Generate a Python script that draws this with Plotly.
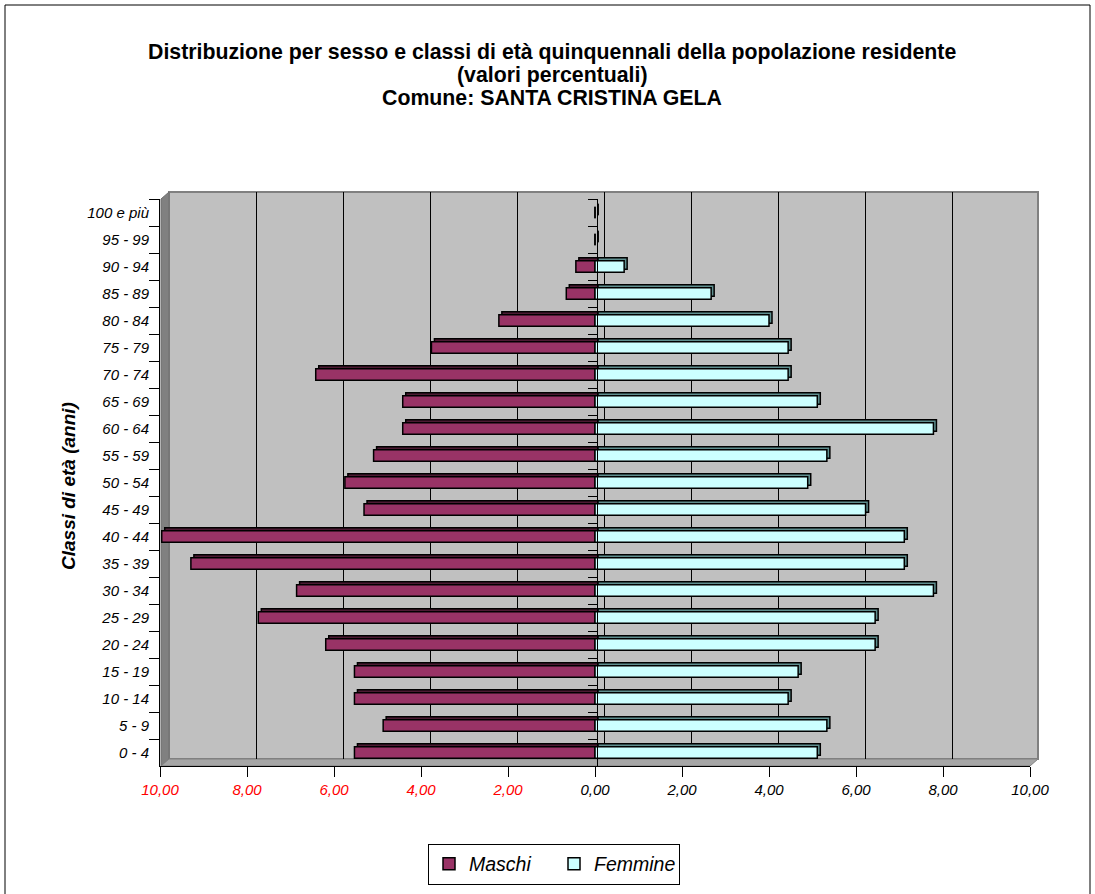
import plotly.graph_objects as go

# ---------------- data ----------------
categories = ["0 - 4", "5 - 9", "10 - 14", "15 - 19", "20 - 24", "25 - 29", "30 - 34",
              "35 - 39", "40 - 44", "45 - 49", "50 - 54", "55 - 59", "60 - 64", "65 - 69",
              "70 - 74", "75 - 79", "80 - 84", "85 - 89", "90 - 94", "95 - 99", "100 e più"]
maschi = [5.53, 4.87, 5.53, 5.53, 6.19, 7.74, 6.86, 9.29, 9.96, 5.31, 5.75, 5.09,
          4.42, 4.42, 6.42, 3.76, 2.21, 0.66, 0.44, 0.00, 0.00]
femmine = [5.11, 5.33, 4.44, 4.67, 6.44, 6.44, 7.78, 7.11, 7.11, 6.22, 4.89, 5.33,
           7.78, 5.11, 4.44, 4.44, 4.00, 2.67, 0.67, 0.00, 0.00]
x_ticks = [-10, -8, -6, -4, -2, 0, 2, 4, 6, 8, 10]
title_lines = ["Distribuzione per sesso e classi di età quinquennali della popolazione residente",
               "(valori percentuali)",
               "Comune: SANTA CRISTINA GELA"]
y_title = "Classi di età (anni)"
series_names = ["Maschi", "Femmine"]

# ---------------- geometry helpers ----------------
W, H = 1095, 894
FONT = "Liberation Sans, Arial, sans-serif"


def px(xp):
    return xp / W


def py(yp):
    return 1 - yp / H


def dom_x(a, b):
    return [px(a), px(b)]


def dom_y(top, bottom):
    return [py(bottom), py(top)]


# front / depth / back planes (pixel boxes, screen coords)
FRONT = (160, 1030, 199, 766)
DEPTH = (163, 1033, 196, 763)
BACK = (169, 1039, 192, 759)

col_m, col_f = "#993366", "#CCFFFF"
col_m_d, col_f_d = "#4d1a33", "#5f8f8f"


def fmt(v):
    s = f"{abs(v):.2f}".replace(".", ",")
    if v < 0:
        return f'<span style="color:#FF0000">{s}</span>'
    return s


neg_m = [-v for v in maschi]

fig = go.Figure()
# back plane placeholder (holds the gridlines)
fig.add_trace(go.Scatter(x=[None], y=[None], xaxis="x", yaxis="y", showlegend=False, hoverinfo="skip"))

# depth (3-D extrusion) bars
fig.add_trace(go.Bar(y=categories, x=neg_m, orientation="h", xaxis="x2", yaxis="y2",
                     marker=dict(color=col_m_d, line=dict(color="black", width=1.5)),
                     showlegend=False, hoverinfo="skip"))
fig.add_trace(go.Bar(y=categories, x=femmine, orientation="h", xaxis="x2", yaxis="y2",
                     marker=dict(color=col_f_d, line=dict(color="black", width=1.5)),
                     showlegend=False, hoverinfo="skip"))

# front bars
fig.add_trace(go.Bar(y=categories, x=neg_m, orientation="h", xaxis="x3", yaxis="y3",
                     name=series_names[0],
                     marker=dict(color=col_m, line=dict(color="black", width=1.5))))
fig.add_trace(go.Bar(y=categories, x=femmine, orientation="h", xaxis="x3", yaxis="y3",
                     name=series_names[1],
                     marker=dict(color=col_f, line=dict(color="black", width=1.5))))
# holder for the central category axis
fig.add_trace(go.Scatter(x=[None], y=[None], xaxis="x3", yaxis="y4", showlegend=False, hoverinfo="skip"))

n = len(categories)
cat_range = [-0.5, n - 0.5]
boundaries = [i - 0.5 for i in range(n + 1)]
tickfont = dict(family=FONT, size=15, color="black", style="italic")

fig.update_layout(
    template="none",
    width=W, height=H, autosize=False,
    margin=dict(l=0, r=0, t=0, b=0, pad=0, autoexpand=False),
    paper_bgcolor="white", plot_bgcolor="rgba(0,0,0,0)",
    barmode="overlay", bargap=0.58,
    showlegend=True,
    legend=dict(orientation="h", x=px(554), xanchor="center", y=py(864), yanchor="middle",
                bgcolor="white", bordercolor="#000000", borderwidth=1,
                font=dict(family=FONT, size=19.5, color="black", style="italic"),
                entrywidth=80, traceorder="normal"),
    xaxis=dict(domain=dom_x(BACK[0], BACK[1]), range=[-10, 10], anchor="y", automargin=False,
               tickvals=x_ticks[1:-1], showgrid=True, gridcolor="#000000", gridwidth=1,
               showticklabels=False, ticks="", zeroline=False, showline=False),
    yaxis=dict(domain=dom_y(BACK[2], BACK[3]), range=cat_range, anchor="x", visible=False,
               automargin=False),
    xaxis2=dict(domain=dom_x(DEPTH[0], DEPTH[1]), range=[-10, 10], anchor="y2", visible=False,
                automargin=False),
    yaxis2=dict(domain=dom_y(DEPTH[2], DEPTH[3]), type="category", categoryarray=categories,
                range=cat_range, anchor="x2", visible=False, automargin=False),
    xaxis3=dict(domain=dom_x(FRONT[0], FRONT[1]), range=[-10, 10], anchor="y3", automargin=False,
                tickvals=x_ticks, ticktext=[fmt(v) for v in x_ticks],
                ticks="outside", ticklen=10, tickcolor="black", tickwidth=1,
                showline=True, linecolor="black", linewidth=1,
                showgrid=False, zeroline=False, tickfont=tickfont),
    yaxis3=dict(domain=dom_y(FRONT[2], FRONT[3]), type="category", categoryarray=categories,
                range=cat_range, anchor="x3", tickson="boundaries", automargin=False,
                ticks="outside", ticklen=10, tickcolor="black", tickwidth=1,
                showline=True, linecolor="black", linewidth=1, ticklabelstandoff=7,
                showgrid=False, zeroline=False, tickfont=tickfont),
    yaxis4=dict(overlaying="y3", anchor="free", position=px(597), range=cat_range,
                automargin=False,
                tickvals=boundaries, ticks="outside", ticklen=9, tickcolor="black",
                showticklabels=False, showline=True, linecolor="black", linewidth=1,
                showgrid=False, zeroline=False),
)


def path(points):
    s = "M " + " L ".join(f"{px(a):.5f},{py(b):.5f}" for a, b in points) + " Z"
    return s


shapes = [
    # outer chart border
    dict(type="rect", xref="paper", yref="paper", x0=px(5), x1=px(1090), y0=py(5), y1=py(900),
         line=dict(color="black", width=1), fillcolor="rgba(0,0,0,0)", layer="above"),
    # back wall
    dict(type="rect", xref="paper", yref="paper", x0=px(169), x1=px(1038), y0=py(759), y1=py(192),
         line=dict(color="#808080", width=2), fillcolor="#C0C0C0", layer="below"),
    # left side wall
    dict(type="path", xref="paper", yref="paper",
         path=path([(161, 766), (161, 199), (169, 192), (169, 759)]),
         line=dict(color="#6e6e6e", width=1), fillcolor="#808080", layer="below"),
    # floor
    dict(type="path", xref="paper", yref="paper",
         path=path([(161, 766), (169, 759), (1038, 759), (1030, 766)]),
         line=dict(color="#808080", width=1), fillcolor="#a6a6a6", layer="below"),
]
fig.update_layout(shapes=shapes)

annotations = []
for i, line in enumerate(title_lines):
    annotations.append(dict(text=line, xref="paper", yref="paper", x=px(552), y=py(52 + 23 * i),
                            xanchor="center", yanchor="middle", showarrow=False,
                            font=dict(family=FONT, size=21.3, color="black", weight="bold")))
annotations.append(dict(text=y_title, xref="paper", yref="paper", x=px(68), y=py(486),
                        xanchor="center", yanchor="middle", showarrow=False, textangle=-90,
                        font=dict(family=FONT, size=19, color="black", weight="bold", style="italic")))
fig.update_layout(annotations=annotations)

fig.write_html("out.html",
               config={"displayModeBar": False, "staticPlot": True},
               post_script="document.body.style.margin='0px';document.body.style.overflow='hidden';")
